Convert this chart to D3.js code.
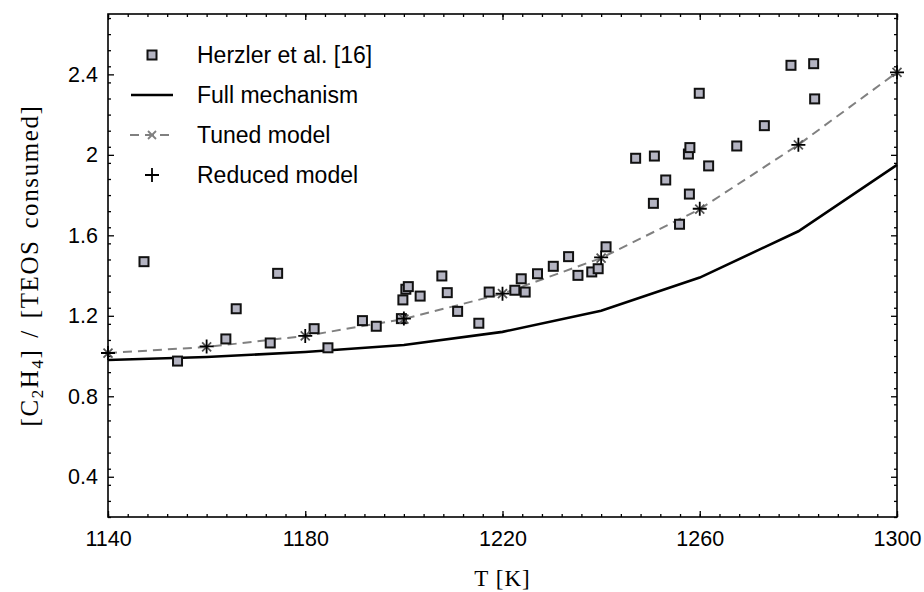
<!DOCTYPE html>
<html>
<head>
<meta charset="utf-8">
<script src="https://cdn.jsdelivr.net/npm/d3@7"></script>
<style>
  body { margin: 0; background: #fff; }
  .tick text { font-family: "Liberation Sans", Arial, sans-serif; font-size: 21.5px; fill: #000; }
  .domain { display: none; }
</style>
</head>
<body>
<script>

// model temperatures [K]
var modelT = [1140, 1160, 1180, 1200, 1220, 1240, 1260, 1280, 1300]
var fullMech = [0.98, 0.995, 1.02, 1.055, 1.12, 1.225, 1.39, 1.62, 1.95]
var tunedModel = [1.015, 1.045, 1.10, 1.184, 1.31, 1.487, 1.73, 2.05, 2.41]
var reducedModel = [1.015, 1.048, 1.10, 1.186, 1.31, 1.49, 1.732, 2.05, 2.41]

// Herzler et al. [16] measurements
var herzT = [1147.3, 1154.1, 1163.9, 1166.0, 1172.9, 1174.4, 1181.8, 1184.6, 1191.6, 1194.4,
             1199.5, 1199.8, 1200.4, 1200.9, 1203.3, 1207.7, 1208.8, 1210.9, 1215.2, 1217.3,
             1222.5, 1223.8, 1224.6, 1227.1, 1230.3, 1233.4, 1235.3, 1238.1, 1239.4, 1241.0,
             1247.0, 1250.6, 1250.8, 1253.1, 1255.9, 1257.9, 1257.7, 1258.0, 1259.9, 1261.8,
             1267.5, 1273.1, 1278.5, 1283.1, 1283.3]
var herzVal = [1.469, 0.975, 1.085, 1.235, 1.065, 1.411, 1.136, 1.041, 1.176, 1.148,
               1.186, 1.279, 1.332, 1.345, 1.298, 1.398, 1.315, 1.222, 1.163, 1.318,
               1.327, 1.384, 1.318, 1.409, 1.446, 1.494, 1.401, 1.418, 1.434, 1.543,
               1.983, 1.759, 1.994, 1.875, 1.655, 1.805, 2.004, 2.036, 2.306, 1.945,
               2.044, 2.145, 2.445, 2.453, 2.278]

var xTicks = [1140, 1180, 1220, 1260, 1300]
var yTicks = [0.4, 0.8, 1.2, 1.6, 2, 2.4]
var legendLabels = ["Herzler et al. [16]", "Full mechanism", "Tuned model", "Reduced model"]

var W = 924, H = 592
var pL = 108, pR = 897, pT = 14, pB = 517

var svg = d3.select("body").append("svg")
          .attr("width", W)
          .attr("height", H)

var x = d3.scaleLinear().domain([1140, 1300]).range([pL, pR])
var y = d3.scaleLinear().domain([0.2, 2.7]).range([pB, pT])

// minor tick values
var xMinor = d3.range(1140, 1300.01, 4)
var yMinor = d3.range(0.2, 2.7, 0.08).map(function(d) { return Math.round(d * 100) / 100 })

// axes, ticks pointing inward on all four sides
function addAxis(axis, tx, ty) {
    var g = svg.append("g").attr("transform", "translate(" + tx + "," + ty + ")").call(axis)
    g.selectAll(".tick line").attr("stroke", "#000").attr("stroke-width", 1.3)
    return g
}

addAxis(d3.axisBottom(x).tickValues(xMinor).tickSize(-3).tickFormat(""), 0, pB)
addAxis(d3.axisTop(x).tickValues(xMinor).tickSize(-3).tickFormat(""), 0, pT)
addAxis(d3.axisLeft(y).tickValues(yMinor).tickSize(-3).tickFormat(""), pL, 0)
addAxis(d3.axisRight(y).tickValues(yMinor).tickSize(-3).tickFormat(""), pR, 0)

var xAx = addAxis(d3.axisBottom(x).tickValues(xTicks).tickSize(-6).tickPadding(14).tickFormat(d3.format("d")), 0, pB)
addAxis(d3.axisTop(x).tickValues(xTicks).tickSize(-6).tickFormat(""), 0, pT)
var yAx = addAxis(d3.axisLeft(y).tickValues(yTicks).tickSize(-6).tickPadding(10).tickFormat(function(d) { return d3.format("")(d) }), pL, 0)
addAxis(d3.axisRight(y).tickValues(yTicks).tickSize(-6).tickFormat(""), pR, 0)

// frame
svg.append("rect")
    .attr("x", pL).attr("y", pT)
    .attr("width", pR - pL).attr("height", pB - pT)
    .attr("fill", "none").attr("stroke", "#000").attr("stroke-width", 1.6)

// lines
var line = d3.line()
    .x(function(d) { return x(d[0]) })
    .y(function(d) { return y(d[1]) })

var fullData = modelT.map(function(t, i) { return [t, fullMech[i]] })
var tunedData = modelT.map(function(t, i) { return [t, tunedModel[i]] })
var reducedData = modelT.map(function(t, i) { return [t, reducedModel[i]] })
var herzData = herzT.map(function(t, i) { return [t, herzVal[i]] })

svg.append("path")
    .attr("d", line(fullData))
    .attr("fill", "none").attr("stroke", "#000").attr("stroke-width", 2.6)

svg.append("path")
    .attr("d", line(tunedData))
    .attr("fill", "none").attr("stroke", "#808080").attr("stroke-width", 2)
    .attr("stroke-dasharray", "9,6")

// squares
var sq = 9
svg.selectAll(".herz")
    .data(herzData)
    .enter().append("rect")
        .attr("class", "herz")
        .attr("x", function(d) { return x(d[0]) - sq / 2 })
        .attr("y", function(d) { return y(d[1]) - sq / 2 })
        .attr("width", sq).attr("height", sq)
        .attr("fill", "#b4b4c2").attr("stroke", "#111").attr("stroke-width", 2)

// marker shapes
function cross(cx, cy, r) {
    return "M" + (cx - r) + "," + (cy - r) + "L" + (cx + r) + "," + (cy + r) +
           "M" + (cx - r) + "," + (cy + r) + "L" + (cx + r) + "," + (cy - r)
}
function plus(cx, cy, r) {
    return "M" + (cx - r) + "," + cy + "L" + (cx + r) + "," + cy +
           "M" + cx + "," + (cy - r) + "L" + cx + "," + (cy + r)
}

svg.selectAll(".tuned")
    .data(tunedData)
    .enter().append("path")
        .attr("class", "tuned")
        .attr("d", function(d) { return cross(x(d[0]), y(d[1]), 4.5) })
        .attr("stroke", "#555").attr("stroke-width", 1.8).attr("fill", "none")

svg.selectAll(".reduced")
    .data(reducedData)
    .enter().append("path")
        .attr("class", "reduced")
        .attr("d", function(d) { return plus(x(d[0]), y(d[1]), 7) })
        .attr("stroke", "#000").attr("stroke-width", 1.8).attr("fill", "none")

// legend
var lgX = 152, lgTextX = 197, lgY0 = 55, lgStep = 40
var lg = svg.append("g")

lg.append("rect")
    .attr("x", lgX - sq / 2).attr("y", lgY0 - sq / 2)
    .attr("width", sq).attr("height", sq)
    .attr("fill", "#b4b4c2").attr("stroke", "#111").attr("stroke-width", 2)
lg.append("line")
    .attr("x1", 131).attr("x2", 173)
    .attr("y1", lgY0 + lgStep).attr("y2", lgY0 + lgStep)
    .attr("stroke", "#000").attr("stroke-width", 2.6)
lg.append("line")
    .attr("x1", 130).attr("x2", 174)
    .attr("y1", lgY0 + 2 * lgStep).attr("y2", lgY0 + 2 * lgStep)
    .attr("stroke", "#808080").attr("stroke-width", 2).attr("stroke-dasharray", "9,6")
lg.append("path")
    .attr("d", cross(lgX, lgY0 + 2 * lgStep, 4))
    .attr("stroke", "#808080").attr("stroke-width", 1.8)
lg.append("path")
    .attr("d", plus(lgX, lgY0 + 3 * lgStep, 7))
    .attr("stroke", "#000").attr("stroke-width", 1.8)

lg.selectAll(".lgtext")
    .data(legendLabels)
    .enter().append("text")
        .attr("class", "lgtext")
        .attr("x", lgTextX)
        .attr("y", function(d, i) { return lgY0 + i * lgStep })
        .attr("dy", "0.36em")
        .attr("font-family", "Liberation Sans, Arial, sans-serif")
        .attr("font-size", 23)
        .text(function(d) { return d })

// axis titles
svg.append("text")
    .attr("x", (pL + pR) / 2).attr("y", 586)
    .attr("text-anchor", "middle")
    .attr("font-family", "Liberation Serif, Times New Roman, serif")
    .attr("font-size", 23)
    .attr("letter-spacing", 1)
    .text("T [K]")

var yl = svg.append("text")
    .attr("transform", "translate(38," + ((pT + pB) / 2) + ") rotate(-90)")
    .attr("text-anchor", "middle")
    .attr("font-family", "Liberation Serif, Times New Roman, serif")
    .attr("font-size", 25)
    .attr("letter-spacing", 1.6)
    .attr("word-spacing", 3)
yl.append("tspan").text("[C")
yl.append("tspan").attr("font-size", 17).attr("dy", 5).text("2")
yl.append("tspan").attr("dy", -5).text("H")
yl.append("tspan").attr("font-size", 17).attr("dy", 5).text("4")
yl.append("tspan").attr("dy", -5).text("]  /  [TEOS consumed]")

</script>
</body>
</html>
